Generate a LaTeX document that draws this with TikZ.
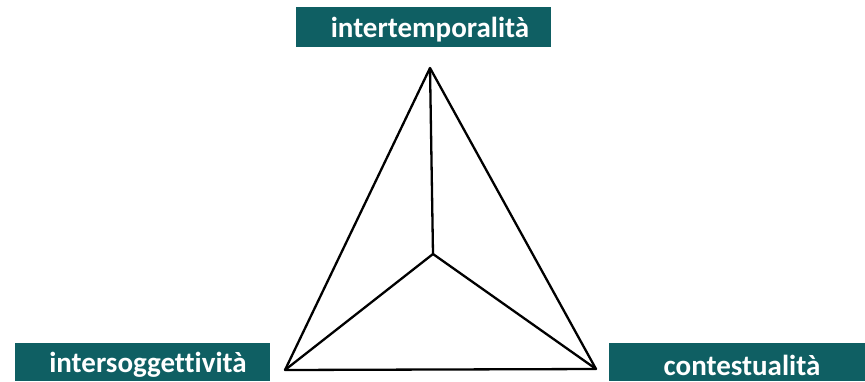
\documentclass[tikz,border=0pt]{standalone}
\usepackage{fontspec}
\setmainfont[Ligatures=NoCommon]{Carlito}
\definecolor{teal1}{HTML}{0F5F63}
\begin{document}
\begin{tikzpicture}[x=1pt,y=-1pt,
  lab/.style={text=white,font=\bfseries\fontsize{29}{32}\selectfont,inner sep=0pt},
  edge/.style={draw=black,line width=2.3pt,line join=round}]
\useasboundingbox (0,0) rectangle (865,381);
\fill[teal1] (296,7) rectangle (551,47);
\fill[teal1] (15,343) rectangle (270,381);
\fill[teal1] (609,343) rectangle (865,381);
\node[lab] (lt) at (430,30) {intertemporalità};
\node[lab] (ll) at (148,365) {intersoggettività};
\node[lab] (lr) at (742,365) {contestualità};
\coordinate (T) at (430,68);
\coordinate (L) at (285,370);
\coordinate (R) at (596,369);
\coordinate (C) at (433,254);
\draw[edge] (T) -- (L) -- (R) -- cycle;
\draw[edge] (T) -- (C) (C) -- (L) (C) -- (R);
\end{tikzpicture}
\end{document}
